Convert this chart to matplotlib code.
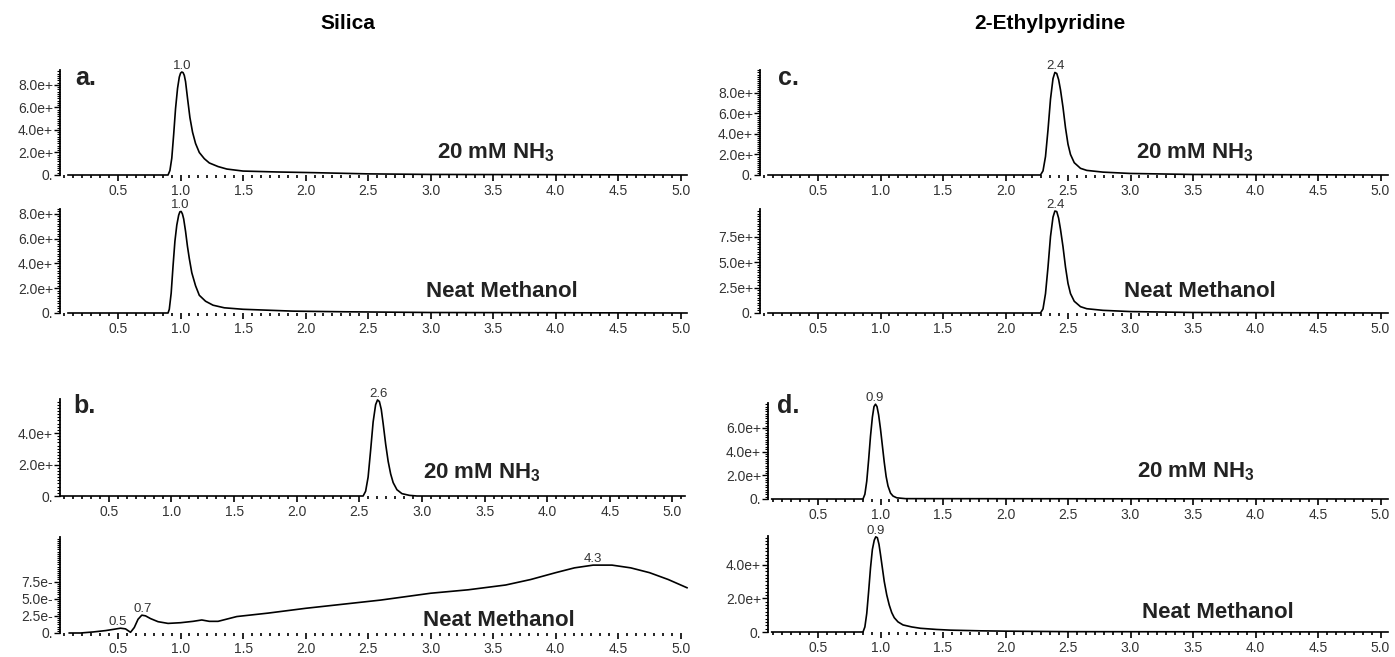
import matplotlib
matplotlib.use("Agg")
import matplotlib.pyplot as plt
from matplotlib.ticker import MultipleLocator, FixedLocator, FixedFormatter

plt.rcParams['font.family'] = ['Liberation Sans', 'DejaVu Sans']
plt.rcParams['mathtext.fontset'] = 'custom'
plt.rcParams['mathtext.bf'] = 'Liberation Sans:bold'
plt.rcParams['mathtext.rm'] = 'Liberation Sans'

# Column titles and trace labels
titles = ["Silica", "2-Ethylpyridine"]
nh3_label = "20 mM NH$_\\mathbf{3}$"
meoh_label = "Neat Methanol"

# a. Silica, 20 mM NH3
a_nh3_x = [0.10, 0.90, 0.915, 0.93, 0.945, 0.96, 0.976, 0.99, 1.0, 1.01, 1.02, 1.03, 1.04,
           1.056, 1.075, 1.096, 1.12, 1.15, 1.19, 1.23, 1.30, 1.37, 1.5, 1.77, 2.1, 2.5, 3.0, 5.05]
a_nh3_y = [0, 0, 0.4, 1.5, 3.6, 5.9, 7.7, 8.7, 9.05, 9.15, 9.1, 8.85, 8.3,
           6.8, 5.1, 3.8, 2.8, 2.0, 1.45, 1.07, 0.75, 0.53, 0.35, 0.27, 0.2, 0.1, 0.05, 0]
a_nh3_peaks = [(1.01, 9.15, "1.0")]

# a. Silica, neat methanol
a_meoh_x = [0.10, 0.90, 0.91, 0.925, 0.94, 0.955, 0.97, 0.985, 0.995, 1.005, 1.015, 1.025,
            1.04, 1.055, 1.07, 1.09, 1.12, 1.15, 1.2, 1.26, 1.35, 1.5, 1.9, 2.3, 3.0, 5.05]
a_meoh_y = [0, 0, 0.3, 1.6, 3.8, 5.8, 7.1, 7.9, 8.18, 8.2, 8.0, 7.6,
            6.6, 5.4, 4.4, 3.25, 2.2, 1.43, 0.95, 0.63, 0.42, 0.3, 0.15, 0.1, 0.04, 0]
a_meoh_peaks = [(1.0, 8.2, "1.0")]

# b. Silica, 20 mM NH3
b_nh3_x = [0.11, 2.53, 2.55, 2.57, 2.59, 2.61, 2.63, 2.645, 2.66, 2.675, 2.69, 2.71, 2.73,
           2.75, 2.77, 2.80, 2.84, 2.9, 2.96, 5.1]
b_nh3_y = [0, 0, 0.3, 1.2, 2.9, 4.7, 5.8, 6.1, 6.0, 5.5, 4.6, 3.3, 2.2,
           1.4, 0.85, 0.4, 0.15, 0.04, 0, 0]
b_nh3_peaks = [(2.65, 6.1, "2.6")]

# b. Silica, neat methanol
b_meoh_x = [0.11, 0.2, 0.3, 0.4, 0.47, 0.52, 0.56, 0.6, 0.63, 0.66, 0.69, 0.72, 0.76, 0.82,
            0.9, 1.0, 1.1, 1.17, 1.23, 1.3, 1.45, 1.7, 2.0, 2.3, 2.6, 3.0, 3.3, 3.6, 3.8,
            4.0, 4.15, 4.3, 4.45, 4.6, 4.75, 4.9, 5.05]
b_meoh_y = [0, 0, 0.15, 0.35, 0.55, 0.7, 0.6, 0.1, 0.8, 2.0, 2.6, 2.5, 2.1, 1.65,
            1.4, 1.5, 1.7, 1.9, 1.7, 1.7, 2.4, 2.9, 3.6, 4.2, 4.8, 5.8, 6.3, 7.0, 7.8,
            8.8, 9.5, 9.9, 9.9, 9.5, 8.8, 7.8, 6.6]
b_meoh_peaks = [(0.5, 0.7, "0.5"), (0.7, 2.6, "0.7"), (4.3, 9.9, "4.3")]

# c. 2-Ethylpyridine, 20 mM NH3
c_nh3_x = [0.10, 2.28, 2.30, 2.32, 2.34, 2.36, 2.38, 2.395, 2.41, 2.425, 2.44, 2.46, 2.48,
           2.50, 2.52, 2.55, 2.6, 2.65, 2.78, 3.0, 3.5, 5.06]
c_nh3_y = [0, 0, 0.4, 1.8, 4.4, 7.4, 9.4, 10.0, 9.9, 9.3, 8.3, 6.6, 4.6,
           3.0, 2.0, 1.2, 0.65, 0.45, 0.28, 0.15, 0.05, 0]
c_nh3_peaks = [(2.40, 10.0, "2.4")]

# c. 2-Ethylpyridine, neat methanol
c_meoh_x = [0.10, 2.28, 2.30, 2.32, 2.34, 2.36, 2.38, 2.395, 2.41, 2.425, 2.44, 2.46, 2.48,
            2.50, 2.52, 2.55, 2.6, 2.65, 2.78, 3.0, 3.5, 5.06]
c_meoh_y = [0, 0, 0.4, 1.9, 4.5, 7.5, 9.4, 10.0, 9.95, 9.3, 8.2, 6.5, 4.5,
            2.9, 1.9, 1.15, 0.62, 0.42, 0.26, 0.14, 0.05, 0]
c_meoh_peaks = [(2.40, 10.0, "2.4")]

# d. 2-Ethylpyridine, 20 mM NH3
d_nh3_x = [0.13, 0.86, 0.875, 0.89, 0.905, 0.92, 0.935, 0.948, 0.96, 0.972, 0.985, 1.0,
           1.015, 1.03, 1.045, 1.06, 1.08, 1.10, 1.13, 1.2, 5.06]
d_nh3_y = [0, 0, 0.4, 1.5, 3.3, 5.3, 6.9, 7.8, 8.0, 7.8, 7.1, 5.9,
           4.5, 3.1, 1.9, 1.1, 0.5, 0.25, 0.1, 0.03, 0]
d_nh3_peaks = [(0.955, 8.0, "0.9")]

# d. 2-Ethylpyridine, neat methanol
d_meoh_x = [0.13, 0.86, 0.875, 0.89, 0.905, 0.92, 0.935, 0.95, 0.962, 0.975, 0.988, 1.0,
            1.015, 1.03, 1.05, 1.07, 1.09, 1.11, 1.14, 1.18, 1.25, 1.32, 1.45, 1.56, 1.8,
            2.0, 2.5, 5.06]
d_meoh_y = [0, 0, 0.3, 1.1, 2.4, 3.8, 4.9, 5.45, 5.65, 5.6, 5.2, 4.6,
            3.8, 3.0, 2.2, 1.6, 1.15, 0.85, 0.6, 0.42, 0.3, 0.22, 0.15, 0.11, 0.07,
            0.05, 0.02, 0]
d_meoh_peaks = [(0.965, 5.65, "0.9")]

# y tick values and their (truncated) labels
yt_8 = [0, 2, 4, 6, 8]
yl_8p = ["0.", "2.0e+", "4.0e+", "6.0e+", "8.0e+"]
yt_4 = [0, 2, 4]
yl_4p = ["0.", "2.0e+", "4.0e+"]
yt_6 = [0, 2, 4, 6]
yl_6p = ["0.", "2.0e+", "4.0e+", "6.0e+"]
yt_75 = [0, 2.5, 5, 7.5]
yl_75p = ["0.", "2.5e+", "5.0e+", "7.5e+"]
yl_75m = ["0.", "2.5e-", "5.0e-", "7.5e-"]
x_ticks = [0.5, 1.0, 1.5, 2.0, 2.5, 3.0, 3.5, 4.0, 4.5, 5.0]

fig = plt.figure(figsize=(13.95, 6.57), dpi=100)
W, H = 1395, 657


def draw_panel(left, top, right, bottom, xlim, ymax, xs, ys, peaks,
               yticks, ylabels, yminor, text, tx, ty):
    ax = fig.add_axes([left / W, 1 - bottom / H, (right - left) / W, (bottom - top) / H])
    ax.plot(xs, ys, color='black', lw=1.2, clip_on=False, solid_joinstyle='round')
    for px, py, lab in peaks:
        ax.annotate(lab, (px, py), xytext=(0, 0), textcoords='offset points',
                    ha='center', va='bottom', fontsize=9.5, color='#333333')
    ax.set_xlim(*xlim)
    ax.set_ylim(0, ymax)
    for s in ['top', 'right', 'bottom']:
        ax.spines[s].set_visible(False)
    ax.spines['left'].set_linewidth(1.3)
    ax.xaxis.set_major_locator(FixedLocator(x_ticks))
    ax.xaxis.set_minor_locator(MultipleLocator(1 / 14))
    ax.yaxis.set_major_locator(FixedLocator(yticks))
    ax.yaxis.set_major_formatter(FixedFormatter(ylabels))
    ax.yaxis.set_minor_locator(MultipleLocator(yminor))
    ax.tick_params(axis='x', which='major', length=4, width=1.2, pad=2.5,
                   labelsize=10, labelcolor='#333333')
    ax.tick_params(axis='x', which='minor', length=2.5, width=1.2)
    ax.tick_params(axis='y', which='major', length=4, width=1.0, pad=1,
                   labelsize=10, labelcolor='#333333')
    ax.tick_params(axis='y', which='minor', length=2.5, width=0.8)
    ax.text(tx, ty, text, transform=ax.transAxes, ha='center', va='baseline',
            fontsize=16, fontweight='bold', color='#222222')
    return ax


# Silica column
draw_panel(60, 70, 687, 175, (0.036, 5.05), 9.33, a_nh3_x, a_nh3_y, a_nh3_peaks,
           yt_8, yl_8p, 0.2, nh3_label, 0.695, 0.16)
draw_panel(60, 209, 687, 313, (0.036, 5.05), 8.4, a_meoh_x, a_meoh_y, a_meoh_peaks,
           yt_8, yl_8p, 0.2, meoh_label, 0.705, 0.15)
draw_panel(60, 399, 685, 496, (0.11, 5.1), 6.16, b_nh3_x, b_nh3_y, b_nh3_peaks,
           yt_4, yl_4p, 0.2, nh3_label, 0.675, 0.186)
draw_panel(60, 537, 687, 633, (0.036, 5.05), 14.0, b_meoh_x, b_meoh_y, b_meoh_peaks,
           yt_75, yl_75m, 0.3125, meoh_label, 0.70, 0.07)

# 2-Ethylpyridine column
draw_panel(760, 70, 1388, 175, (0.036, 5.06), 10.24, c_nh3_x, c_nh3_y, c_nh3_peaks,
           yt_8, yl_8p, 0.2, nh3_label, 0.693, 0.16)
draw_panel(760, 209, 1388, 313, (0.036, 5.06), 10.2, c_meoh_x, c_meoh_y, c_meoh_peaks,
           yt_75, yl_75p, 0.25, meoh_label, 0.70, 0.15)
draw_panel(768, 403, 1388, 499, (0.1, 5.06), 8.1, d_nh3_x, d_nh3_y, d_nh3_peaks,
           yt_6, yl_6p, 0.2, nh3_label, 0.69, 0.22)
draw_panel(768, 536, 1388, 632, (0.1, 5.06), 5.7, d_meoh_x, d_meoh_y, d_meoh_peaks,
           yt_4, yl_4p, 0.2, meoh_label, 0.725, 0.145)

# Panel letters and column titles
for lab, x, y in [("a.", 75, 85), ("b.", 73, 413), ("c.", 778, 85), ("d.", 777, 413)]:
    fig.text(x / W, 1 - y / H, lab, fontsize=18, fontweight='bold', color='#222222',
             ha='left', va='baseline')
fig.text(348 / W, 1 - 29 / H, titles[0], fontsize=15, fontweight='bold', ha='center', va='baseline')
fig.text(1050 / W, 1 - 29 / H, titles[1], fontsize=15, fontweight='bold', ha='center', va='baseline')

fig.savefig("out.png", dpi=100)
